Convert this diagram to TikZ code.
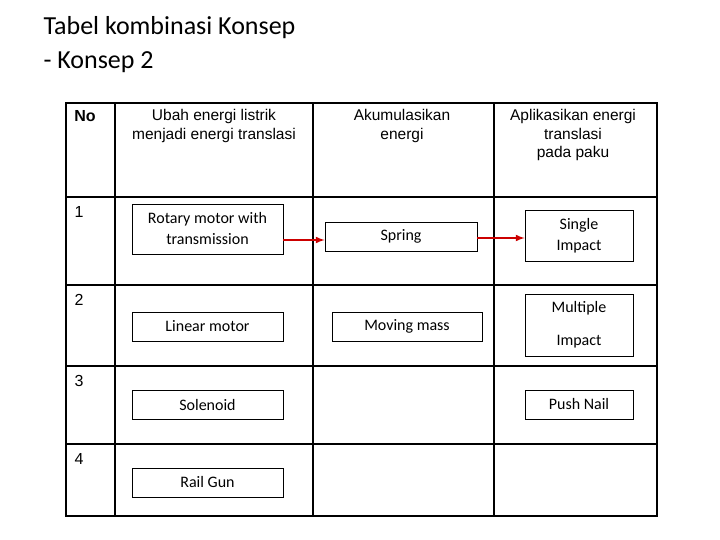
\documentclass[tikz,border=0pt]{standalone}
\usepackage{fontspec}
\setmainfont{Liberation Sans}
\newfontfamily\carlitofont{Carlito}
\begin{document}
\begin{tikzpicture}[x=1pt,y=-1pt,
  grid/.style={line width=2pt},
  cell/.style={draw,line width=0.8pt,inner sep=0pt,font=\carlitofont\fontsize{16}{21}\selectfont,align=center},
  hdr/.style={font=\fontsize{15.5}{18.5}\selectfont,align=center,anchor=north},
  num/.style={font=\fontsize{16}{18}\selectfont,anchor=west},
  link/.style={draw=red!80!black,line width=2pt,-latex}]
\useasboundingbox (0,0) rectangle (720,540);
\node[anchor=west,font=\carlitofont\fontsize{26}{34}\selectfont,align=left] (title) at (40,45) {Tabel kombinasi Konsep\\- Konsep 2};
% grid
\draw[grid] (66,103) rectangle (657,516);
\foreach \xx in {115,313,494} \draw[grid] (\xx,103) -- (\xx,516);
\foreach \yy in {197,285,366,444} \draw[grid] (66,\yy) -- (657,\yy);
% headers
\node[hdr,font=\bfseries\fontsize{16}{18}\selectfont] (h0) at (85,107) {No};
\node[hdr] (h1) at (214,106) {Ubah energi listrik\\menjadi energi translasi};
\node[hdr] (h2) at (402,106) {Akumulasikan\\energi};
\node[hdr] (h3) at (573,106) {Aplikasikan energi\\translasi\\pada paku};
\node[num] (n1) at (71,212) {1};
\node[num] (n2) at (71,300) {2};
\node[num] (n3) at (71,381) {3};
\node[num] (n4) at (71,459) {4};
% boxes
\node[cell,minimum width=151,minimum height=50] (rot) at (207.5,229) {Rotary motor with\\transmission};
\node[cell,minimum width=152,minimum height=29] (spr) at (401,236.5) {Spring};
\node[cell,minimum width=108,minimum height=51] (sin) at (579,235.5) {Single\\Impact};
\node[cell,minimum width=151,minimum height=29] (lin) at (207.5,326.5) {Linear motor};
\node[cell,minimum width=150,minimum height=29] (mov) at (407,326.5) {Moving mass};
\node[cell,minimum width=108,minimum height=62,font=\carlitofont\fontsize{16}{33}\selectfont] (mul) at (579,325) {Multiple\\Impact};
\node[cell,minimum width=151,minimum height=29] (sol) at (207.5,404.5) {Solenoid};
\node[cell,minimum width=108,minimum height=29] (push) at (579,404.5) {Push Nail};
\node[cell,minimum width=151,minimum height=29] (rail) at (207.5,482.5) {Rail Gun};
% arrows
\draw[link] (rot.east |- 0,240) -- (spr.west |- 0,240);
\draw[link] (spr.east |- 0,238) -- (sin.west |- 0,238);
\end{tikzpicture}
\end{document}
